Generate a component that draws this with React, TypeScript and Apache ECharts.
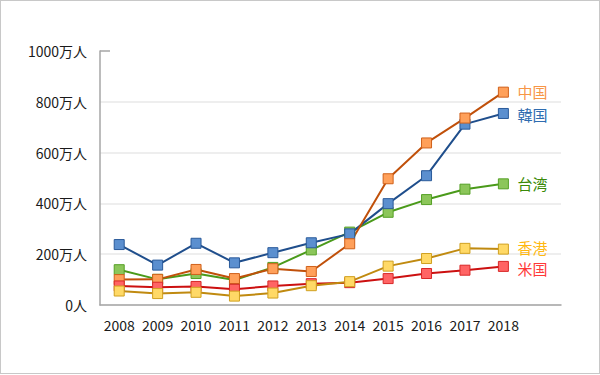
import React, { useEffect, useRef } from "react";
import * as echarts from "echarts";

const years = ["2008", "2009", "2010", "2011", "2012", "2013", "2014", "2015", "2016", "2017", "2018", ""];
const yTicks = [0, 200, 400, 600, 800, 1000];

const taiwan = [139, 101, 124, 98, 148, 217, 287, 365, 415, 456, 477];
const korea = [238, 157, 243, 166, 206, 245, 280, 399, 509, 712, 754];
const china = [100, 101, 140, 104, 143, 132, 241, 497, 638, 736, 838];
const usa = [75, 70, 73, 62, 75, 84, 88, 104, 124, 137, 152];
const hongkong = [55, 45, 50, 35, 47, 76, 92, 153, 183, 223, 220];

const seriesDefs = [
  { name: "台湾", data: taiwan, line: "#4a9a1a", fill: "#8cc65a", border: "#55a025", label: "#3a8a08", dy: 0 },
  { name: "韓国", data: korea, line: "#1f4e8c", fill: "#5b8fcf", border: "#2a5a9a", label: "#2e6cb0", dy: 1 },
  { name: "中国", data: china, line: "#c0500a", fill: "#ffa05a", border: "#d0601a", label: "#f79646", dy: -1 },
  { name: "米国", data: usa, line: "#cc1010", fill: "#ff6464", border: "#d82828", label: "#ff3838", dy: 2 },
  { name: "香港", data: hongkong, line: "#c08a10", fill: "#ffd966", border: "#d0a020", label: "#ffb810", dy: -2 },
];

const FONT = "'Noto Sans CJK JP', 'Noto Sans', sans-serif";

export default function App() {
  const ref = useRef<HTMLDivElement>(null);
  useEffect(() => {
    document.body.style.margin = "0";
    const chart = echarts.init(ref.current!, null, { renderer: "svg" });
    chart.setOption({
      animation: false,
      textStyle: { fontFamily: FONT },
      grid: { left: 100, right: 39, top: 51, bottom: 69, containLabel: false },
      xAxis: {
        type: "category",
        data: years,
        boundaryGap: true,
        axisLine: { lineStyle: { color: "#a6a6a6", width: 1.5 } },
        axisTick: { inside: true, length: 6, interval: 0, lineStyle: { color: "#a6a6a6", width: 1.5 } },
        axisLabel: { color: "#1a1a1a", fontSize: 14, margin: 13, interval: 0, fontFamily: FONT },
        splitLine: { show: false },
      },
      yAxis: {
        type: "value",
        min: 0,
        max: 1000,
        interval: 200,
        axisLine: { show: true, lineStyle: { color: "#a6a6a6", width: 1.5 } },
        axisTick: { show: false },
        axisLabel: {
          color: "#1a1a1a",
          fontSize: 14,
          margin: 13,
          fontFamily: FONT,
          formatter: (v: number) => (v === 0 ? "0人" : v + "万人"),
        },
        splitLine: {
          show: true,
          lineStyle: { color: ["#e8e8e8", "#e8e8e8", "#e8e8e8", "#e8e8e8", "#e8e8e8", "rgba(0,0,0,0)"], width: 1.5 },
        },
      },
      series: seriesDefs.map((s) => ({
        name: s.name,
        type: "line",
        data: s.data,
        symbol: "rect",
        symbolSize: 10,
        lineStyle: { color: s.line, width: 2 },
        itemStyle: { color: s.fill, borderColor: s.border, borderWidth: 1 },
        endLabel: {
          show: true,
          formatter: s.name,
          color: s.label,
          fontSize: 15,
          lineHeight: 15,
          fontFamily: FONT,
          distance: 14,
          offset: [0, s.dy],
        },
      })),
    });
    const y1000 = chart.convertToPixel({ yAxisIndex: 0 }, yTicks[yTicks.length - 1]) as number;
    chart.setOption({
      graphic: [
        {
          type: "line",
          shape: { x1: 100, y1: y1000, x2: 110, y2: y1000 },
          style: { stroke: "#a6a6a6", lineWidth: 1.5 },
        },
      ],
    });
    return () => chart.dispose();
  }, []);
  return (
    <div
      style={{
        position: "absolute",
        left: 0,
        top: 0,
        width: 600,
        height: 374,
        boxSizing: "border-box",
        border: "1px solid #c8c8c8",
        background: "#fff",
      }}
    >
      <div ref={ref} style={{ position: "absolute", left: -1, top: -1, width: 600, height: 374 }} />
    </div>
  );
}
